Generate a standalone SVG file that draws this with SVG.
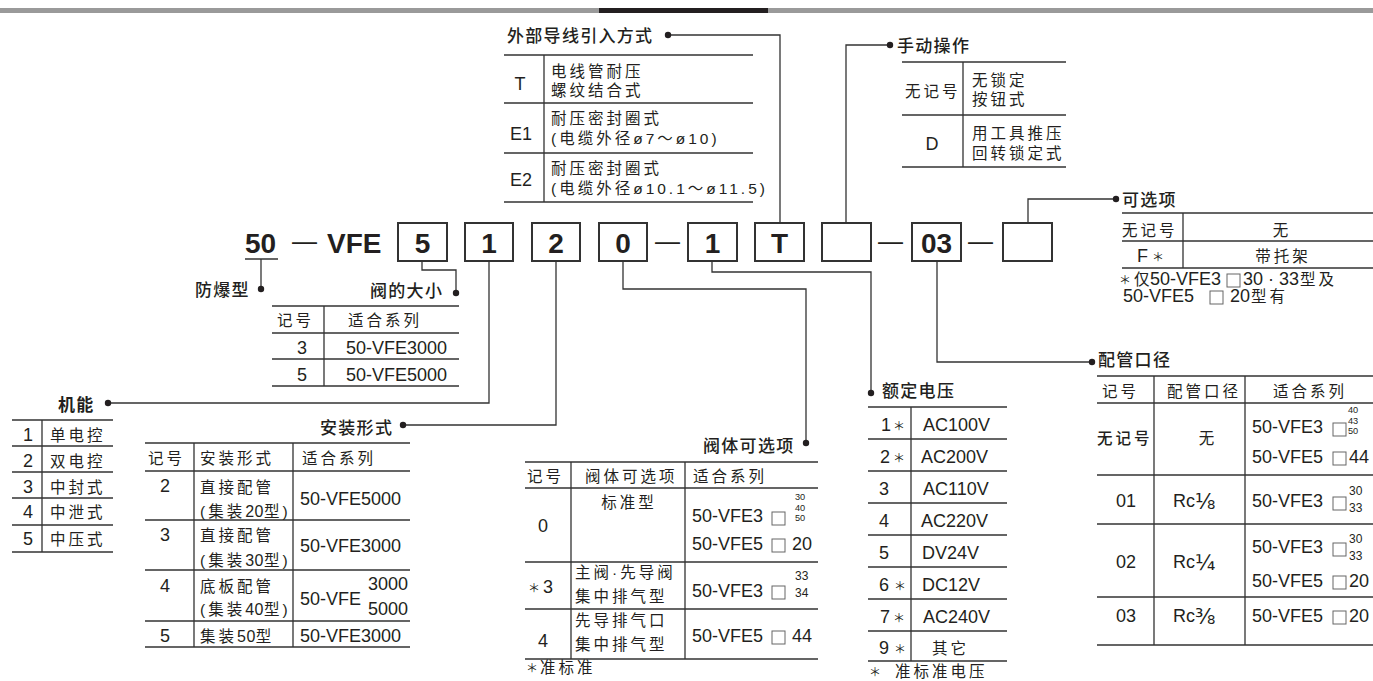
<svg xmlns="http://www.w3.org/2000/svg" width="1373" height="681" viewBox="0 0 1373 681">
<style>
.ln{stroke:#333;stroke-width:1.3;fill:none}
.cn{stroke:#333;stroke-width:1.3;fill:none}
.bx{fill:#fff;stroke:#333;stroke-width:2}
.dot{fill:#231f20}
.sq{fill:none;stroke:#666;stroke-width:1}
text{fill:#231f20}
.code{font-family:"Liberation Sans",Arial,sans-serif;font-weight:bold;font-size:28px}
.ti{font-family:"Noto Sans CJK SC",sans-serif;font-size:17px;font-weight:500;letter-spacing:1.3px}
.c{font-family:"Liberation Sans","Noto Sans CJK SC",sans-serif;font-size:15.5px;letter-spacing:3px}
.l{font-family:"Liberation Sans",Arial,sans-serif;font-size:18px}
.s{font-family:"Liberation Sans",Arial,sans-serif;font-size:12px}
.t{font-family:"Liberation Sans",Arial,sans-serif;font-size:9.2px}
.a{font-family:"Noto Sans CJK SC",sans-serif;font-size:12px}
.fr{font-family:"DejaVu Sans",sans-serif;font-size:21px}
.d{letter-spacing:0.5px;font-size:16px}
.mid{text-anchor:middle}
</style>
<rect x="0" y="8" width="1373" height="5" fill="#9a9a9a"/>
<rect x="599" y="8" width="169" height="5" fill="#231f20"/>

<g id="code">
<text class="code" x="245" y="253">50</text>
<text class="code" x="292" y="250" style="font-weight:normal;font-size:25px">—</text>
<text class="code" x="327" y="253">VFE</text>
<rect class="bx" x="398" y="223" width="49" height="38"/><text class="code mid" x="422.5" y="253">5</text>
<rect class="bx" x="465" y="223" width="48" height="38"/><text class="code mid" x="489" y="253">1</text>
<rect class="bx" x="532" y="223" width="48" height="38"/><text class="code mid" x="556" y="253">2</text>
<rect class="bx" x="599" y="223" width="48" height="38"/><text class="code mid" x="623" y="253">0</text>
<text class="code" x="655" y="250" style="font-weight:normal;font-size:25px">—</text>
<rect class="bx" x="688" y="223" width="49" height="38"/><text class="code mid" x="712.5" y="253">1</text>
<rect class="bx" x="755" y="223" width="49" height="38"/><text class="code mid" x="779.5" y="253">T</text>
<rect class="bx" x="822" y="223" width="49" height="38"/>
<text class="code" x="878" y="250" style="font-weight:normal;font-size:25px">—</text>
<rect class="bx" x="912" y="223" width="49" height="38"/><text class="code mid" x="936.5" y="253">03</text>
<text class="code" x="968" y="250" style="font-weight:normal;font-size:25px">—</text>
<rect class="bx" x="1003" y="223" width="49" height="38"/>
</g>

<g id="connectors">
<polyline class="cn" points="245,259 278,259"/>
<polyline class="cn" points="261,259 261,289"/>
<polyline class="cn" points="422,261 422,270 456,270 456,293"/>
<polyline class="cn" points="489,261 489,403 108,403"/>
<polyline class="cn" points="556,261 556,425 403,425"/>
<polyline class="cn" points="623,261 623,289 806,289 806,443"/>
<polyline class="cn" points="712,261 712,272 871,272 871,393"/>
<polyline class="cn" points="780,223 780,35 668,35"/>
<polyline class="cn" points="846,223 846,45 890,45"/>
<polyline class="cn" points="937,261 937,362 1092,362"/>
<polyline class="cn" points="1028,223 1028,199 1116,199"/>
<circle class="dot" cx="261" cy="289" r="3.2"/>
<circle class="dot" cx="456" cy="293" r="3.2"/>
<circle class="dot" cx="108" cy="403" r="3.2"/>
<circle class="dot" cx="403" cy="425" r="3.2"/>
<circle class="dot" cx="806" cy="443" r="3.2"/>
<circle class="dot" cx="871" cy="393" r="3.2"/>
<circle class="dot" cx="668" cy="35" r="3.2"/>
<circle class="dot" cx="890" cy="45" r="3.2"/>
<circle class="dot" cx="1092" cy="362" r="3.2"/>
<circle class="dot" cx="1116" cy="199" r="3.2"/>
</g>

<g id="lead-in">
<text class="ti" x="507" y="42">外部导线引入方式</text>
<path class="ln" d="M504 55H753M504 103H753M504 153H753M504 202H753M544 55V202"/>
<text class="l mid" x="520" y="90">T</text>
<text class="c" x="551" y="77">电线管耐压</text>
<text class="c" x="551" y="96">螺纹结合式</text>
<text class="l mid" x="521" y="140">E1</text>
<text class="c" x="551" y="124">耐压密封圈式</text>
<text class="c" x="551" y="144">(电缆外径ø7～ø10)</text>
<text class="l mid" x="521" y="186">E2</text>
<text class="c" x="551" y="174">耐压密封圈式</text>
<text class="c" x="551" y="194">(电缆外径ø10.1～ø11.5)</text>
</g>

<g id="manual">
<text class="ti" x="897" y="52">手动操作</text>
<path class="ln" d="M902 62H1066M902 115H1066M902 167H1066M963 62V167"/>
<text class="c" x="905" y="97">无记号</text>
<text class="c" x="972" y="86">无锁定</text>
<text class="c" x="972" y="105">按钮式</text>
<text class="l mid" x="932" y="150">D</text>
<text class="c" x="972" y="139">用工具推压</text>
<text class="c" x="972" y="159">回转锁定式</text>
</g>

<g id="option">
<text class="ti" x="1122" y="206">可选项</text>
<path class="ln" d="M1122 213H1373M1122 241H1373M1122 268H1373M1183 213V268"/>
<text class="c" x="1122" y="236">无记号</text>
<text class="c mid" x="1282" y="236">无</text>
<text class="l" x="1137" y="262">F</text>
<text class="a" x="1152" y="262">＊</text>
<text class="c mid" x="1283" y="262">带托架</text>
<text class="a" x="1119" y="285">＊</text>
<text class="c" x="1134" y="285">仅</text>
<text class="l" x="1150" y="285">50-VFE3</text>
<rect class="sq" x="1227" y="274" width="13" height="13"/>
<text class="l" x="1243" y="285">30 · 33</text>
<text class="c" x="1300" y="285">型及</text>
<text class="l" x="1123" y="302">50-VFE5</text>
<rect class="sq" x="1210" y="291" width="13" height="13"/>
<text class="l" x="1230" y="302">20</text>
<text class="c" x="1251" y="302">型有</text>
</g>

<g id="explosion">
<text class="ti" x="195" y="296">防爆型</text>
</g>

<g id="size">
<text class="ti" x="370" y="297">阀的大小</text>
<path class="ln" d="M272 306H459M272 333H459M272 359H459M272 386H459M324 306V386"/>
<text class="c" x="277" y="326">记号</text>
<text class="c" x="348" y="326">适合系列</text>
<text class="l mid" x="302" y="354">3</text>
<text class="l" x="346" y="354">50-VFE3000</text>
<text class="l mid" x="302" y="381">5</text>
<text class="l" x="346" y="381">50-VFE5000</text>
</g>

<g id="function">
<text class="ti" x="58" y="411" style="font-weight:bold">机能</text>
<path class="ln" d="M12 420H113M12 446H113M12 472H113M12 498H113M12 525H113M12 552H113M42 420V552"/>
<text class="l mid" x="28" y="441">1</text><text class="c" x="50" y="441">单电控</text>
<text class="l mid" x="28" y="467">2</text><text class="c" x="50" y="467">双电控</text>
<text class="l mid" x="28" y="493">3</text><text class="c" x="50" y="493">中封式</text>
<text class="l mid" x="28" y="518">4</text><text class="c" x="50" y="518">中泄式</text>
<text class="l mid" x="28" y="545">5</text><text class="c" x="50" y="545">中压式</text>
</g>

<g id="mounting">
<text class="ti" x="320" y="434">安装形式</text>
<path class="ln" d="M145 443H410M145 471H410M145 520H410M145 570H410M145 621H410M145 647H410M194 443V647M293 443V647"/>
<text class="c" x="148" y="464">记号</text>
<text class="c" x="200" y="464">安装形式</text>
<text class="c" x="302" y="464">适合系列</text>
<text class="l mid" x="165" y="492">2</text>
<text class="c" x="200" y="493">直接配管</text>
<text class="c" x="200" y="517">(集装<tspan class="d">20</tspan>型)</text>
<text class="l" x="300" y="505">50-VFE5000</text>
<text class="l mid" x="165" y="541">3</text>
<text class="c" x="200" y="541">直接配管</text>
<text class="c" x="200" y="566">(集装<tspan class="d">30</tspan>型)</text>
<text class="l" x="300" y="552">50-VFE3000</text>
<text class="l mid" x="165" y="592">4</text>
<text class="c" x="200" y="592">底板配管</text>
<text class="c" x="200" y="615">(集装<tspan class="d">40</tspan>型)</text>
<text class="l" x="300" y="605">50-VFE</text>
<text class="l" x="368" y="590">3000</text>
<text class="l" x="368" y="615">5000</text>
<text class="l mid" x="165" y="642">5</text>
<text class="c" x="200" y="642">集装<tspan class="d">50</tspan>型</text>
<text class="l" x="300" y="642">50-VFE3000</text>
</g>

<g id="body-option">
<text class="ti" x="703" y="452">阀体可选项</text>
<path class="ln" d="M525 462H818M525 488H818M525 562H818M525 609H818M525 659H818M571 462V659M685 462V659"/>
<text class="c" x="527" y="482">记号</text>
<text class="c" x="585" y="482">阀体可选项</text>
<text class="c" x="693" y="482">适合系列</text>
<text class="l mid" x="543" y="532">0</text>
<text class="c mid" x="629" y="508">标准型</text>
<text class="l" x="692" y="522">50-VFE3</text>
<rect class="sq" x="772" y="512" width="13" height="13"/>
<text class="t" x="795" y="500">30<tspan x="795" dy="10.6">40</tspan><tspan x="795" dy="10.6">50</tspan></text>
<text class="l" x="692" y="550">50-VFE5</text>
<rect class="sq" x="772" y="539" width="13" height="13"/>
<text class="l" x="792" y="550">20</text>
<text class="a" x="528" y="593">＊</text>
<text class="l" x="543" y="593">3</text>
<text class="c" x="575" y="578">主阀·先导阀</text>
<text class="c" x="575" y="602">集中排气型</text>
<text class="l" x="692" y="597">50-VFE3</text>
<rect class="sq" x="772" y="586" width="13" height="13"/>
<text class="s" x="795" y="580">33<tspan x="795" dy="17">34</tspan></text>
<text class="l mid" x="543" y="647">4</text>
<text class="c" x="575" y="626">先导排气口</text>
<text class="c" x="575" y="650">集中排气型</text>
<text class="l" x="692" y="642">50-VFE5</text>
<rect class="sq" x="772" y="631" width="13" height="13"/>
<text class="l" x="792" y="642">44</text>
<text class="a" x="526" y="673">＊</text>
<text class="c" x="540" y="673">准标准</text>
</g>

<g id="voltage">
<text class="ti" x="882" y="397">额定电压</text>
<path class="ln" d="M868 407H1007M868 439H1007M868 471H1007M868 503H1007M868 535H1007M868 567H1007M868 599H1007M868 631H1007M868 661H1007M911 407V661"/>
<text class="l" x="881" y="431">1</text><text class="a" x="893" y="431">＊</text><text class="l" x="923" y="431">AC100V</text>
<text class="l" x="880" y="463">2</text><text class="a" x="893" y="463">＊</text><text class="l" x="921" y="463">AC200V</text>
<text class="l" x="879" y="495">3</text><text class="l" x="923" y="495">AC110V</text>
<text class="l" x="879" y="527">4</text><text class="l" x="921" y="527">AC220V</text>
<text class="l" x="879" y="559">5</text><text class="l" x="922" y="559">DV24V</text>
<text class="l" x="879" y="591">6</text><text class="a" x="894" y="591">＊</text><text class="l" x="922" y="591">DC12V</text>
<text class="l" x="880" y="623">7</text><text class="a" x="893" y="623">＊</text><text class="l" x="923" y="623">AC240V</text>
<text class="l" x="879" y="654">9</text><text class="a" x="894" y="654">＊</text><text class="c" x="932" y="654">其它</text>
<text class="a" x="869" y="677">＊</text>
<text class="c" x="895" y="677">准标准电压</text>
</g>

<g id="port">
<text class="ti" x="1098" y="366">配管口径</text>
<path class="ln" d="M1097 376H1373M1097 403H1373M1097 475H1373M1097 524H1373M1097 597H1373M1097 645H1373M1154 376V645M1245 376V645"/>
<text class="c" x="1102" y="397">记号</text>
<text class="c" x="1167" y="397">配管口径</text>
<text class="c" x="1273" y="397">适合系列</text>
<text class="c" x="1097" y="444" style="font-weight:500">无记号</text>
<text class="c mid" x="1208" y="444">无</text>
<text class="l" x="1252" y="433">50-VFE3</text>
<rect class="sq" x="1333" y="423" width="13" height="13"/>
<text class="t" x="1348" y="413">40<tspan x="1348" dy="10.6">43</tspan><tspan x="1348" dy="10.6">50</tspan></text>
<text class="l" x="1252" y="463">50-VFE5</text>
<rect class="sq" x="1333" y="452" width="13" height="13"/>
<text class="l" x="1349" y="463">44</text>
<text class="l mid" x="1126" y="507">01</text>
<text class="l" x="1173" y="507">Rc<tspan class="fr" dy="2">⅛</tspan></text>
<text class="l" x="1252" y="507">50-VFE3</text>
<rect class="sq" x="1333" y="497" width="13" height="13"/>
<text class="s" x="1349" y="495">30<tspan x="1349" dy="17">33</tspan></text>
<text class="l mid" x="1126" y="568">02</text>
<text class="l" x="1173" y="568">Rc<tspan class="fr" dy="2">¼</tspan></text>
<text class="l" x="1252" y="553">50-VFE3</text>
<rect class="sq" x="1333" y="543" width="13" height="13"/>
<text class="s" x="1349" y="543">30<tspan x="1349" dy="17">33</tspan></text>
<text class="l" x="1252" y="587">50-VFE5</text>
<rect class="sq" x="1333" y="576" width="13" height="13"/>
<text class="l" x="1349" y="587">20</text>
<text class="l mid" x="1126" y="622">03</text>
<text class="l" x="1173" y="622">Rc<tspan class="fr" dy="2">⅜</tspan></text>
<text class="l" x="1252" y="622">50-VFE5</text>
<rect class="sq" x="1333" y="611" width="13" height="13"/>
<text class="l" x="1349" y="622">20</text>
</g>
</svg>
